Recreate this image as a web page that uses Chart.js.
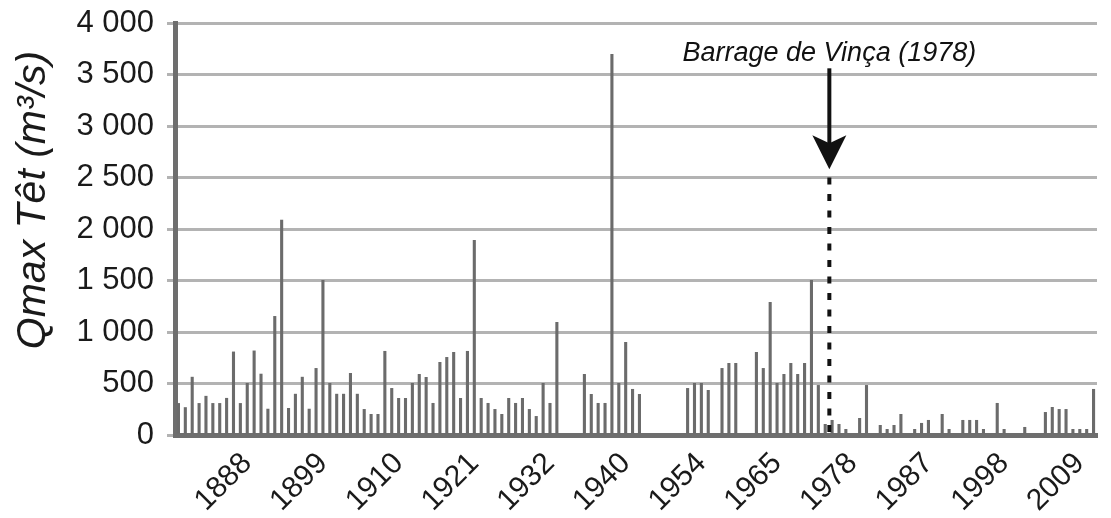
<!DOCTYPE html>
<html>
<head>
<meta charset="utf-8">
<script src="https://cdn.jsdelivr.net/npm/chart.js@4.4.1/dist/chart.umd.min.js"></script>
<style>
  html, body { margin: 0; padding: 0; background: #fff; }
</style>
</head>
<body>
<canvas id="chart" width="1111" height="518"></canvas>
<script>
// one category per year
const years = [
  1878, 1879, 1880, 1881, 1882, 1883, 1884, 1885, 1886, 1887,
  1888, 1889, 1890, 1891, 1892, 1893, 1894, 1895, 1896, 1897,
  1898, 1899, 1900, 1901, 1902, 1903, 1904, 1905, 1906, 1907,
  1908, 1909, 1910, 1911, 1912, 1913, 1914, 1915, 1916, 1917,
  1918, 1919, 1920, 1921, 1922, 1923, 1924, 1925, 1926, 1927,
  1928, 1929, 1930, 1931, 1932, 1933, 1934, 1935, 1936, 1937,
  1938, 1939, 1940, 1941, 1942, 1943, 1944, 1945, 1946, 1947,
  1948, 1949, 1950, 1951, 1952, 1953, 1954, 1955, 1956, 1957,
  1958, 1959, 1960, 1961, 1962, 1963, 1964, 1965, 1966, 1967,
  1968, 1969, 1970, 1971, 1972, 1973, 1974, 1975, 1976, 1977,
  1978, 1979, 1980, 1981, 1982, 1983, 1984, 1985, 1986, 1987,
  1988, 1989, 1990, 1991, 1992, 1993, 1994, 1995, 1996, 1997,
  1998, 1999, 2000, 2001, 2002, 2003, 2004, 2005, 2006, 2007,
  2008, 2009, 2010, 2011
];

// annual max discharge, m3/s (null = no data)
const qmax = [
  310, 270, 565, 310, 380, 310, 310, 360, 810, 310,
  505, 820, 595, 255, 1155, 2090, 262, 400, 565, 255,
  650, 1505, 505, 400, 400, 602, 400, 252, 204, 204,
  816, 456, 359, 359, 505, 592, 563, 311, 709, 757,
  806, 359, 816, 1893, 359, 311, 252, 204, 359, 311,
  359, 252, 184, 505, 311, 1097, null, null, null, 592,
  398, 311, 311, 3700, 505, 903, 447, 398, null, null,
  null, null, null, null, 456, 505, 505, 437, null, 650,
  699, 699, null, null, 806, 650, 1291, 505, 592, 699,
  592, 699, 1505, 485, 107, 146, 107, 58, null, 165,
  485, null, 97, 58, 97, 204, null, 58, 117, 146,
  null, 204, 58, null, 146, 146, 146, 58, null, 311,
  58, null, null, 78, null, null, 223, 272, 252, 252,
  58, 58, 58, 447
];

// where the axis shows a label, and what it reads
const tickYears = [1888, 1899, 1910, 1921, 1932, 1943, 1954, 1965, 1976, 1987, 1998, 2009];
const tickLabels = ['1888', '1899', '1910', '1921', '1932', '1940', '1954', '1965', '1978', '1987', '1998', '2009'];

const damLabel = 'Barrage de Vinça (1978)';
const damPos = 94.6;      // category index of the dashed line
const damTop = 2500;      // dashed line height
const arrowTip = 2580;
const arrowTail = 3560;
const damLabelAt = 3700;

const fontFamily = '"Liberation Sans", Arial, Helvetica, sans-serif';

function fmt(v) {
  if (v < 1000) return String(v);
  return Math.floor(v / 1000) + ' ' + String(v % 1000).padStart(3, '0');
}

const damPlugin = {
  id: 'dam',
  afterDatasetsDraw(chart) {
    const { ctx, scales: { x, y } } = chart;
    const px = x.getPixelForValue(damPos);
    ctx.save();
    ctx.strokeStyle = '#111';
    ctx.fillStyle = '#111';
    ctx.lineWidth = 4;

    // dashed line down to the axis
    ctx.setLineDash([7, 9.5]);
    ctx.beginPath();
    ctx.moveTo(px, y.getPixelForValue(damTop));
    ctx.lineTo(px, y.getPixelForValue(0));
    ctx.stroke();

    // arrow
    ctx.setLineDash([]);
    const tip = y.getPixelForValue(arrowTip);
    const tail = y.getPixelForValue(arrowTail);
    ctx.beginPath();
    ctx.moveTo(px, tail);
    ctx.lineTo(px, tip - 22);
    ctx.stroke();
    ctx.beginPath();
    ctx.moveTo(px, tip);
    ctx.lineTo(px - 17, tip - 34);
    ctx.lineTo(px, tip - 26);
    ctx.lineTo(px + 17, tip - 34);
    ctx.closePath();
    ctx.fill();

    ctx.font = 'italic 27px ' + fontFamily;
    ctx.textAlign = 'center';
    ctx.textBaseline = 'middle';
    ctx.fillText(damLabel, px, y.getPixelForValue(damLabelAt));
    ctx.restore();
  },
  afterDraw(chart) {
    // y axis title, sits a bit above the middle of the axis
    const { ctx, chartArea } = chart;
    ctx.save();
    ctx.translate(34, (chartArea.top + chartArea.bottom) / 2 - 29);
    ctx.rotate(-Math.PI / 2);
    ctx.font = 'italic 41px ' + fontFamily;
    ctx.fillStyle = '#1a1a1a';
    ctx.textAlign = 'center';
    ctx.textBaseline = 'middle';
    ctx.fillText('Qmax Têt (m³/s)', 0, 0);
    ctx.restore();
  }
};

new Chart(document.getElementById('chart'), {
  type: 'bar',
  data: {
    labels: years,
    datasets: [{
      data: qmax,
      backgroundColor: '#6b6b6b',
      barPercentage: 0.45,
      categoryPercentage: 1.0,
    }],
  },
  options: {
    responsive: false,
    animation: false,
    devicePixelRatio: 1,
    layout: { padding: { top: 23, right: 14 } },
    plugins: {
      legend: { display: false },
      tooltip: { enabled: false },
    },
    scales: {
      x: {
        grid: { display: false },
        border: { display: true, color: '#6e6e6e', width: 5 },
        ticks: {
          autoSkip: false,
          maxRotation: 45,
          minRotation: 45,
          padding: 3,
          color: '#1a1a1a',
          font: { family: fontFamily, size: 30 },
          callback: (value, index) => {
            const k = tickYears.indexOf(years[index]);
            return k >= 0 ? tickLabels[k] : '';
          },
        },
        afterFit: (scale) => {
          scale.height = 83;
          scale.paddingLeft = 0;
          scale.paddingRight = 0;
        },
      },
      y: {
        min: 0,
        max: 4000,
        grid: { color: '#b3b3b3', lineWidth: 3, tickLength: 8, tickColor: '#b3b3b3' },
        border: { display: true, color: '#6e6e6e', width: 5 },
        ticks: {
          stepSize: 500,
          padding: 13,
          color: '#1a1a1a',
          font: { family: fontFamily, size: 31 },
          callback: (v) => fmt(v),
        },
        afterFit: (scale) => {
          scale.width = 175;
          scale.paddingTop = 0;
          scale.paddingBottom = 0;
        },
      },
    },
  },
  plugins: [damPlugin],
});
</script>
</body>
</html>
